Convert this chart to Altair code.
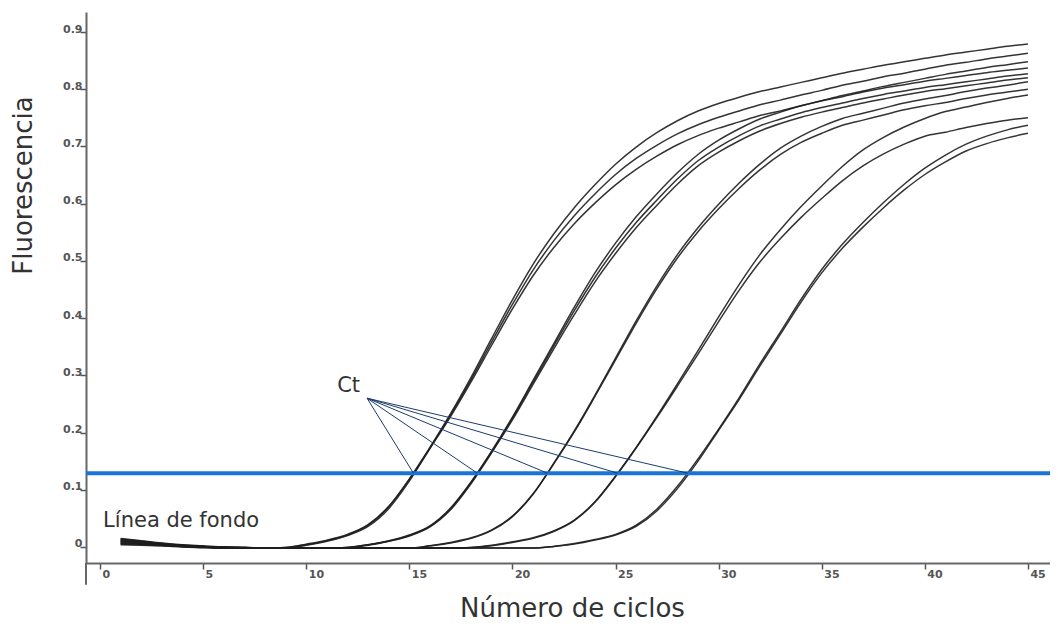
import altair as alt
import pandas as pd

# ---------------- data ----------------
cycles = list(range(1, 46))

g1a = [0.015, 0.011, 0.007, 0.004, 0.002, 0.000, -0.001, -0.002, -0.001, 0.005,
       0.012, 0.022, 0.039, 0.071, 0.119, 0.174, 0.233, 0.297, 0.365, 0.432,
       0.494, 0.547, 0.593, 0.633, 0.669, 0.699, 0.724, 0.745, 0.762, 0.775,
       0.786, 0.796, 0.804, 0.812, 0.820, 0.828, 0.835, 0.842, 0.848, 0.854,
       0.860, 0.865, 0.870, 0.875, 0.879]
g1b = [0.014, 0.010, 0.006, 0.003, 0.001, -0.001, -0.002, -0.002, -0.001, 0.004,
       0.011, 0.021, 0.038, 0.070, 0.118, 0.173, 0.231, 0.293, 0.359, 0.424,
       0.484, 0.535, 0.579, 0.617, 0.651, 0.679, 0.702, 0.722, 0.738, 0.751,
       0.762, 0.773, 0.781, 0.790, 0.798, 0.807, 0.814, 0.822, 0.828, 0.835,
       0.842, 0.847, 0.853, 0.858, 0.863]
g1c = [0.013, 0.009, 0.006, 0.003, 0.001, -0.002, -0.002, -0.002, -0.002, 0.003,
       0.010, 0.020, 0.036, 0.067, 0.115, 0.172, 0.228, 0.289, 0.353, 0.416,
       0.474, 0.523, 0.565, 0.601, 0.633, 0.660, 0.683, 0.703, 0.719, 0.732,
       0.743, 0.754, 0.762, 0.771, 0.780, 0.789, 0.797, 0.805, 0.812, 0.819,
       0.826, 0.832, 0.838, 0.843, 0.848]
g2a = [0.012, 0.009, 0.005, 0.003, 0.001, -0.001, -0.002, -0.002, -0.002, -0.002,
       -0.002, -0.001, 0.004, 0.011, 0.021, 0.037, 0.068, 0.114, 0.168, 0.227,
       0.291, 0.355, 0.419, 0.479, 0.531, 0.577, 0.617, 0.654, 0.686, 0.711,
       0.731, 0.748, 0.760, 0.771, 0.780, 0.787, 0.795, 0.802, 0.808, 0.814,
       0.819, 0.824, 0.829, 0.833, 0.837]
g2b = [0.011, 0.008, 0.005, 0.002, 0.000, 0.000, -0.001, -0.002, -0.002, -0.002,
       -0.002, -0.001, 0.004, 0.010, 0.020, 0.036, 0.067, 0.113, 0.167, 0.225,
       0.288, 0.351, 0.413, 0.471, 0.522, 0.567, 0.606, 0.643, 0.675, 0.699,
       0.719, 0.736, 0.748, 0.759, 0.768, 0.776, 0.784, 0.791, 0.797, 0.803,
       0.808, 0.813, 0.818, 0.823, 0.827]
g2c = [0.010, 0.007, 0.004, 0.002, 0.000, -0.002, -0.002, -0.002, -0.002, -0.002,
       -0.002, -0.001, 0.003, 0.010, 0.019, 0.035, 0.065, 0.111, 0.165, 0.222,
       0.284, 0.346, 0.406, 0.463, 0.513, 0.558, 0.597, 0.634, 0.666, 0.690,
       0.710, 0.727, 0.740, 0.751, 0.760, 0.768, 0.776, 0.783, 0.790, 0.796,
       0.801, 0.806, 0.811, 0.816, 0.820]
g3a = [0.009, 0.007, 0.004, 0.002, 0.000, 0.000, -0.001, -0.002, -0.002, -0.002,
       -0.002, -0.002, -0.002, -0.002, -0.002, 0.002, 0.008, 0.016, 0.030, 0.054,
       0.093, 0.146, 0.203, 0.265, 0.330, 0.395, 0.456, 0.511, 0.558, 0.599,
       0.636, 0.669, 0.697, 0.718, 0.735, 0.749, 0.758, 0.767, 0.776, 0.783,
       0.789, 0.796, 0.802, 0.807, 0.813]
g3b = [0.008, 0.006, 0.004, 0.002, 0.000, -0.001, -0.002, -0.002, -0.002, -0.002,
       -0.002, -0.002, -0.002, -0.002, -0.002, 0.002, 0.007, 0.015, 0.029, 0.053,
       0.092, 0.145, 0.201, 0.263, 0.327, 0.391, 0.451, 0.505, 0.551, 0.591,
       0.627, 0.659, 0.686, 0.707, 0.723, 0.737, 0.746, 0.755, 0.764, 0.771,
       0.777, 0.784, 0.790, 0.795, 0.800]
g4a = [0.007, 0.005, 0.003, 0.001, 0.000, -0.002, -0.002, -0.002, -0.002, -0.002,
       -0.002, -0.002, -0.002, -0.002, -0.002, -0.002, -0.002, -0.001, 0.003, 0.009,
       0.016, 0.028, 0.047, 0.079, 0.124, 0.174, 0.228, 0.285, 0.343, 0.402,
       0.459, 0.511, 0.555, 0.595, 0.631, 0.665, 0.694, 0.716, 0.734, 0.749,
       0.761, 0.769, 0.777, 0.784, 0.790]
g4b = [0.006, 0.005, 0.003, 0.001, -0.001, -0.001, -0.001, -0.002, -0.002, -0.002,
       -0.002, -0.002, -0.002, -0.002, -0.002, -0.002, -0.002, -0.001, 0.002, 0.008,
       0.015, 0.027, 0.046, 0.078, 0.123, 0.173, 0.226, 0.281, 0.337, 0.394,
       0.449, 0.498, 0.539, 0.576, 0.609, 0.640, 0.666, 0.687, 0.704, 0.718,
       0.725, 0.733, 0.740, 0.746, 0.750]
g5a = [0.005, 0.004, 0.002, 0.001, -0.001, -0.001, -0.002, -0.002, -0.002, -0.002,
       -0.002, -0.002, -0.002, -0.002, -0.002, -0.002, -0.002, -0.002, -0.002, -0.002,
       -0.002, 0.001, 0.006, 0.013, 0.022, 0.038, 0.066, 0.106, 0.154, 0.206,
       0.261, 0.320, 0.376, 0.433, 0.485, 0.529, 0.567, 0.602, 0.634, 0.662,
       0.685, 0.704, 0.718, 0.729, 0.737]
g5b = [0.004, 0.003, 0.002, 0.000, -0.001, -0.002, -0.002, -0.002, -0.002, -0.002,
       -0.002, -0.002, -0.002, -0.002, -0.002, -0.002, -0.002, -0.002, -0.002, -0.002,
       -0.002, 0.001, 0.005, 0.012, 0.021, 0.036, 0.063, 0.102, 0.150, 0.204,
       0.258, 0.316, 0.372, 0.428, 0.479, 0.522, 0.559, 0.593, 0.624, 0.651,
       0.673, 0.692, 0.705, 0.715, 0.723]

series_names = ["G1a", "G1b", "G1c", "G2a", "G2b", "G2c",
                "G3a", "G3b", "G4a", "G4b", "G5a", "G5b"]
series_values = [g1a, g1b, g1c, g2a, g2b, g2c, g3a, g3b, g4a, g4b, g5a, g5b]

threshold = [0.129]
ct_values = [15.2, 18.3, 21.7, 25.1, 28.5]
ct_origin_x = [12.95]
ct_origin_y = [0.26]

x_ticks = [0, 5, 10, 15, 20, 25, 30, 35, 40, 45]
y_ticks = [0, 0.1, 0.2, 0.3, 0.4, 0.5, 0.6, 0.7, 0.8, 0.9]

x_domain = [-0.68, 46.07]
y_domain = [-0.028, 0.935]
y_axis_extension = [-0.066, -0.028]   # the y axis line continues below the x axis

label_text = ["Ct", "Línea de fondo"]
label_x = [11.5, 0.15]
label_y = [0.271, 0.035]

# ---------------- tables ----------------
rows = []
for name, vals in zip(series_names, series_values):
    for c, v in zip(cycles, vals):
        rows.append({"ciclo": c, "fluor": v, "serie": name})
df = pd.DataFrame(rows)

df_thr = pd.DataFrame({"ciclo": [0], "fluor": threshold})
df_ct = pd.DataFrame({
    "ciclo": ct_origin_x * len(ct_values),
    "fluor": ct_origin_y * len(ct_values),
    "c2": ct_values,
    "f2": threshold * len(ct_values),
})
df_lab = pd.DataFrame({"ciclo": label_x, "fluor": label_y, "t": label_text})
df_ext = pd.DataFrame({"ciclo": [x_domain[0]], "fluor": [y_axis_extension[0]],
                       "f2": [y_axis_extension[1]]})

# ---------------- scales & axes ----------------
xscale = alt.Scale(domain=x_domain, nice=False, zero=False)
yscale = alt.Scale(domain=y_domain, nice=False, zero=False)

xaxis = alt.Axis(
    values=x_ticks, grid=False, title="Número de ciclos",
    titleFont="DejaVu Sans", titleFontSize=26, titleFontWeight="normal",
    titleColor="#333333", titleX=486, titleY=53, titleAlign="center",
    titleBaseline="alphabetic",
    domainColor="#666666", domainWidth=2,
    tickColor="#555555", tickSize=6, tickWidth=1.5,
    labelAlign="left", labelBaseline="top", labelPadding=-1, labelOffset=2,
    labelFont="DejaVu Sans", labelFontSize=11, labelFontWeight="bold",
    labelColor="#555555",
)
yaxis = alt.Axis(
    values=y_ticks, grid=False, title="Fluorescencia", format=".1~f",
    titleFont="DejaVu Sans", titleFontSize=26, titleFontWeight="normal",
    titleColor="#333333", titleAngle=270, titleX=-63, titleY=173,
    titleAlign="center", titleBaseline="middle",
    domainColor="#666666", domainWidth=2,
    tickColor="#555555", tickSize=6, tickWidth=1.5,
    labelAlign="right", labelBaseline="alphabetic", labelPadding=-2,
    labelFont="DejaVu Sans", labelFontSize=11, labelFontWeight="bold",
    labelColor="#555555",
)

X = alt.X("ciclo:Q", scale=xscale, axis=xaxis)
Y = alt.Y("fluor:Q", scale=yscale, axis=yaxis)

curves = alt.Chart(df).mark_line(
    interpolate="monotone", color="#1e1e1e", strokeWidth=1.5, opacity=0.9
).encode(x=X, y=Y, detail="serie:N")

thr = alt.Chart(df_thr).mark_rule(color="#1874d6", strokeWidth=4).encode(y=Y)

leaders = alt.Chart(df_ct).mark_rule(color="#1d3c6e", strokeWidth=1).encode(
    x=X, y=Y, x2="c2:Q", y2="f2:Q"
)

axis_ext = alt.Chart(df_ext).mark_rule(color="#666666", strokeWidth=2, clip=False).encode(
    x=X, y=Y, y2="f2:Q"
)

labels = alt.Chart(df_lab).mark_text(
    align="left", baseline="alphabetic", font="DejaVu Sans", fontSize=21,
    color="#333333"
).encode(x=X, y=Y, text="t:N")

chart = alt.layer(curves, thr, leaders, axis_ext, labels).properties(
    width=964, height=551,
    autosize=alt.AutoSizeParams(type="none"),
    padding={"left": 78, "top": 4, "right": 0, "bottom": 59},
    background="white",
).configure_view(stroke=None)

chart.save("out.html", embed_options={"renderer": "svg", "actions": False})
